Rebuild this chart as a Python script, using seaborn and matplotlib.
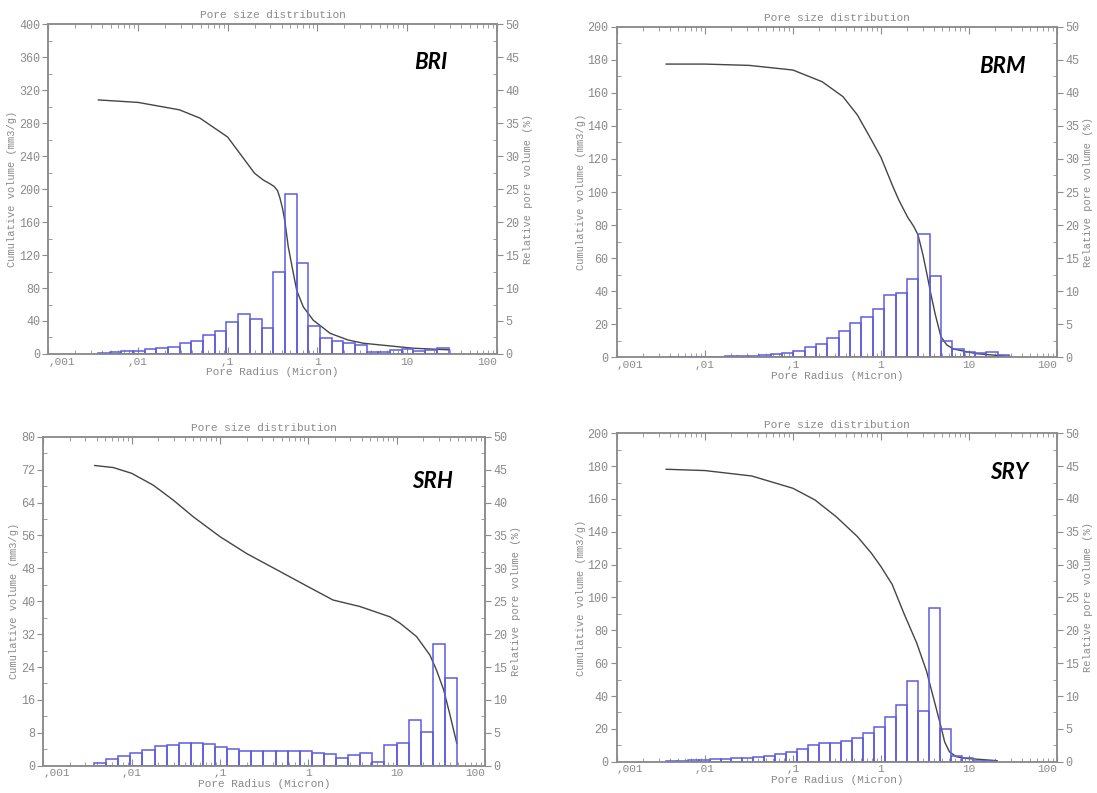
import numpy as np
import matplotlib
matplotlib.use("Agg")
import matplotlib.pyplot as plt
import seaborn as sns
from matplotlib.ticker import LogLocator, NullFormatter, MultipleLocator

# ---- values ----
# cumulative curve: pore radius (micron) / cumulative volume (mm3/g)
bri_r = [0.0036, 0.01, 0.029, 0.049, 0.1, 0.137, 0.2, 0.249, 0.3, 0.33, 0.36, 0.383, 0.41,
         0.436, 0.474, 0.518, 0.589, 0.698, 0.9, 1.39, 2.2, 3.27, 11.7, 30]
bri_cum = [308, 305, 296, 286, 263, 243, 219, 211, 206, 203, 198, 189, 176,
           160, 130, 108, 77, 57, 41, 25, 17, 13, 7, 5]
# histogram: relative pore volume (%) per log bin
bri_bin0 = 0.00358
bri_dlog = 0.1303
bri_rel = [0.15, 0.25, 0.4, 0.5, 0.8, 0.9, 1.1, 1.6, 2.0, 2.9, 3.5, 4.8, 6.0, 5.3, 4.0,
           12.5, 24.2, 13.8, 4.3, 2.4, 2.0, 1.7, 1.4, 0.3, 0.3, 0.6, 0.7, 0.5, 0.6, 0.9]

brm_r = [0.0036, 0.01, 0.032, 0.1, 0.215, 0.37, 0.54, 0.78, 1.0, 1.35, 1.6, 2.0,
         2.37, 2.64, 3.0, 3.34, 3.7, 4.14, 4.8, 5.6, 6.7, 12.2, 31]
brm_cum = [177.4, 177.4, 176.6, 173.8, 166.7, 157.7, 146.6, 131.5, 121, 104, 95, 85,
           79, 74, 62, 50, 38, 26, 12.5, 7.5, 5, 2.2, 0.4]
brm_bin0 = 0.00385
brm_dlog = 0.129
brm_rel = [0.05, 0.05, 0.08, 0.1, 0.1, 0.15, 0.2, 0.25, 0.3, 0.5, 0.7, 0.95, 1.5, 2.0, 2.9,
           4.0, 5.2, 6.1, 7.3, 9.5, 9.8, 11.9, 18.6, 12.3, 2.5, 1.3, 0.85, 0.7, 0.75, 0.35]

srh_r = [0.0038, 0.0062, 0.01, 0.0176, 0.0295, 0.05, 0.1, 0.2, 0.52, 1.0, 1.9, 3.85,
         8.4, 11, 16.8, 23.8, 28.2, 34, 40, 48]
srh_cum = [73.0, 72.5, 71.1, 68.2, 64.6, 60.5, 55.7, 51.6, 46.8, 43.5, 40.3, 38.7,
           36.2, 34.6, 31.4, 26.9, 23.3, 18.5, 12.5, 5.4]
srh_bin0 = 0.00375
srh_dlog = 0.137
srh_rel = [0.45, 0.96, 1.47, 2.0, 2.4, 3.0, 3.2, 3.4, 3.5, 3.3, 2.8, 2.5, 2.3, 2.3, 2.3,
           2.3, 2.3, 2.2, 2.0, 1.8, 1.2, 1.6, 1.9, 0.6, 3.1, 3.4, 7.0, 5.2, 18.5, 13.3]

sry_r = [0.0036, 0.01, 0.034, 0.1, 0.178, 0.31, 0.54, 0.78, 1.0, 1.34, 1.82, 2.56,
         3.3, 3.9, 4.7, 5.3, 6.0, 7.2, 9.3, 21]
sry_cum = [178.1, 177.3, 174.0, 166.5, 159.4, 149.2, 137.1, 126.9, 118.8, 108, 90.4, 72,
           55, 40, 23.4, 12, 6, 3.0, 2.0, 0.6]
sry_bin0 = 0.00357
sry_dlog = 0.1248
sry_rel = [0.1, 0.15, 0.2, 0.25, 0.36, 0.46, 0.5, 0.56, 0.66, 0.86, 1.2, 1.5, 1.9, 2.5, 2.8,
           2.8, 3.1, 3.65, 4.3, 5.3, 6.75, 8.6, 12.3, 7.7, 23.4, 4.9, 0.86, 0.5, 0.15, 0.1]

x_ticks = [0.001, 0.01, 0.1, 1, 10, 100]
x_ticklabels = [",001", ",01", ",1", "1", "10", "100"]

TXT = "#8a8a8a"
SPINE = "#8c8c8c"
LINE = "#454545"
BAR = "#5c5ce0"

sns.set_style("white")
plt.rcParams['font.family'] = ['Liberation Mono', 'DejaVu Sans']

# name, curve x, curve y, bin start, bin width, bars, left max, left step, axes rect, label pos
panels = [
    ("BRI", bri_r, bri_cum, bri_bin0, bri_dlog, bri_rel, 400, 40,
     [0.044, 0.5536, 0.4088, 0.4161], (0.853, 0.882)),
    ("BRM", brm_r, brm_cum, brm_bin0, brm_dlog, brm_rel, 200, 20,
     [0.5624, 0.5494, 0.4011, 0.4169], (0.876, 0.881)),
    ("SRH", srh_r, srh_cum, srh_bin0, srh_dlog, srh_rel, 80, 8,
     [0.0395, 0.0344, 0.4026, 0.4149], (0.88, 0.865)),
    ("SRY", sry_r, sry_cum, sry_bin0, sry_dlog, sry_rel, 200, 20,
     [0.5624, 0.0395, 0.4011, 0.4141], (0.891, 0.882)),
]

fig = plt.figure(figsize=(10.97, 7.93), dpi=100)

for name, r, cum, b0, dlog, rel, ymax, ystep, rect, lpos in panels:
    ax = fig.add_axes(rect)
    ax.set_xscale('log')
    ax2 = ax.twinx()

    edges = b0 * 10 ** (dlog * np.arange(len(rel) + 1))
    ax2.bar(edges[:-1], rel, width=np.diff(edges), align='edge', fill=False,
            edgecolor=BAR, linewidth=1.1)
    sns.lineplot(x=r, y=cum, ax=ax, color=LINE, linewidth=1.0)

    ax.set_xlim(0.001, 100)
    ax.set_ylim(0, ymax)
    ax2.set_ylim(0, 50)

    ax.set_xticks(x_ticks)
    ax.set_xticklabels(x_ticklabels)
    xl = ax.get_xticklabels()
    xl[0].set_ha('left')
    xl[-1].set_ha('right')
    ax.xaxis.set_minor_locator(LogLocator(base=10, subs=np.arange(2, 10), numticks=20))
    ax.xaxis.set_minor_formatter(NullFormatter())
    ax.yaxis.set_major_locator(MultipleLocator(ystep))
    ax.yaxis.set_minor_locator(MultipleLocator(ystep / 2))
    ax2.yaxis.set_major_locator(MultipleLocator(5))
    ax2.yaxis.set_minor_locator(MultipleLocator(2.5))

    ax.tick_params(axis='x', which='both', direction='in', top=True, bottom=True,
                   color=SPINE, labelcolor=TXT, labelsize=8, pad=2)
    ax.tick_params(axis='x', which='major', length=5)
    ax.tick_params(axis='x', which='minor', length=3)
    ax.tick_params(axis='y', which='major', direction='out', length=4, left=True, right=False,
                   color=SPINE, labelcolor=TXT, labelsize=8.5, pad=2)
    ax.tick_params(axis='y', which='minor', direction='in', length=3, left=True, right=False,
                   color=SPINE)
    ax2.tick_params(axis='y', which='major', direction='out', length=4, right=True,
                    color=SPINE, labelcolor=TXT, labelsize=8.5, pad=2)
    ax2.tick_params(axis='y', which='minor', direction='in', length=3, right=True,
                    color=SPINE)

    for a in (ax, ax2):
        for sp in a.spines.values():
            sp.set_color(SPINE)
            sp.set_linewidth(1.1)

    ax.set_title("Pore size distribution", fontsize=8, color=TXT, pad=4)
    ax.set_xlabel("Pore Radius (Micron)", fontsize=8, color=TXT, labelpad=0.5)
    ax.set_ylabel("Cumulative volume (mm3/g)", fontsize=7.5, color=TXT, labelpad=1.5)
    ax2.set_ylabel("Relative pore volume (%)", fontsize=7.5, color=TXT, labelpad=3)

    ax2.text(lpos[0], lpos[1], name, transform=ax.transAxes, fontsize=16,
             fontweight='bold', fontstyle='italic', family=['Lato', 'DejaVu Sans'],
             ha='center', va='center', color='black')

fig.savefig('out.png', dpi=100)
